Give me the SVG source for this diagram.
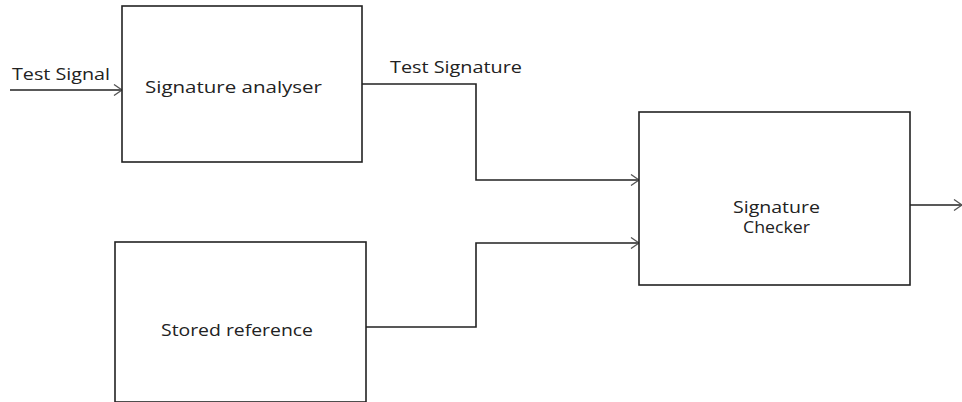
<svg xmlns="http://www.w3.org/2000/svg" width="962" height="402" viewBox="0 0 962 402">
<style>
.box{fill:#fff;stroke:#222;stroke-width:1.6}
.ln{fill:none;stroke:#222;stroke-width:1.6}
text{font-family:"Open Sans","Liberation Sans",sans-serif;font-size:16px;fill:#222}
</style>
<defs>
<marker id="arr" markerWidth="12" markerHeight="12" refX="10" refY="6" orient="auto" markerUnits="userSpaceOnUse">
<path d="M2,0.5 L10,6 L2,11.5" fill="none" stroke="#555" stroke-width="1.3"/>
</marker>
</defs>
<rect width="962" height="402" fill="#fff"/>
<g id="connectors">
<line class="ln" x1="10" y1="90" x2="122" y2="90" marker-end="url(#arr)"/>
<polyline class="ln" points="362,84 476,84 476,180 639,180" marker-end="url(#arr)"/>
<polyline class="ln" points="366,327 476,327 476,243 639,243" marker-end="url(#arr)"/>
<line class="ln" x1="910" y1="205" x2="962" y2="205" marker-end="url(#arr)"/>
<text x="12" y="80" textLength="98" lengthAdjust="spacingAndGlyphs">Test Signal</text>
<text x="390" y="73" textLength="132" lengthAdjust="spacingAndGlyphs">Test Signature</text>
</g>
<g id="analyser">
<rect class="box" x="122" y="6" width="240" height="156"/>
<text x="145" y="93" textLength="177" lengthAdjust="spacingAndGlyphs">Signature analyser</text>
</g>
<g id="stored">
<rect class="box" x="115" y="242" width="251" height="160"/>
<text x="161" y="336" textLength="152" lengthAdjust="spacingAndGlyphs">Stored reference</text>
</g>
<g id="checker">
<rect class="box" x="639" y="112" width="271" height="173"/>
<text x="733" y="213" textLength="87" lengthAdjust="spacingAndGlyphs">Signature</text>
<text x="743" y="233" textLength="67" lengthAdjust="spacingAndGlyphs">Checker</text>
</g>
</svg>
